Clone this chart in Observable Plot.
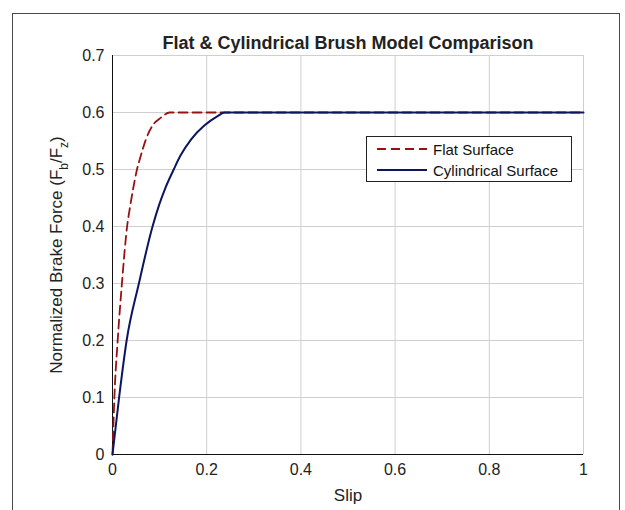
<!DOCTYPE html>
<html><head><meta charset="utf-8">
<script src="https://cdn.jsdelivr.net/npm/d3@7"></script>
<script src="https://cdn.jsdelivr.net/npm/@observablehq/plot@0.6"></script>
<style>
body{margin:0;background:#fff;font-family:"Liberation Sans",Arial,sans-serif;}
#wrap{position:relative;width:625px;height:510px;overflow:hidden;background:#fff;}
#frame{position:absolute;left:12px;top:13px;width:606px;height:530px;border:1px solid #4a4a4a;}
#chart{position:absolute;left:0;top:0;}
#legend{position:absolute;left:366px;top:136px;width:204px;height:44px;border:1px solid #222;background:#fff;font-size:15px;color:#111;}
.row{position:absolute;left:10px;height:20px;display:flex;align-items:center;white-space:nowrap;}
.row svg{margin-right:6px;}
</style></head>
<body><div id="wrap"><div id="frame"></div><div id="chart"></div><div id="legend"></div></div>
<script>
const title = "Flat & Cylindrical Brush Model Comparison";
const xLabel = "Slip";
const seriesNames = ["Flat Surface", "Cylindrical Surface"];
const flatSlip  = [0, 0.004, 0.011, 0.020, 0.031, 0.038, 0.044, 0.052, 0.060, 0.071, 0.085, 0.103, 0.121, 1];
const flatForce = [0, 0.1,   0.2,   0.3,   0.4,   0.438, 0.467, 0.5,   0.524, 0.553, 0.577, 0.591, 0.6,   0.6];
const cylSlip   = [0, 0.014, 0.030, 0.056, 0.085, 0.099, 0.112, 0.130, 0.144, 0.167, 0.195, 0.224, 0.238, 1];
const cylForce  = [0, 0.1,   0.2,   0.3,   0.4,   0.438, 0.467, 0.5,   0.524, 0.553, 0.577, 0.594, 0.6,   0.6];
const xTicks = [0, 0.2, 0.4, 0.6, 0.8, 1];
const yTicks = [0, 0.1, 0.2, 0.3, 0.4, 0.5, 0.6, 0.7];

const flatColor = "#9a1010", cylColor = "#0c165e";
const flat = flatSlip.map((s, i) => ({s, f: flatForce[i]}));
const cyl = cylSlip.map((s, i) => ({s, f: cylForce[i]}));

const chart = Plot.plot({
  width: 625, height: 510,
  marginLeft: 112, marginRight: 42, marginTop: 55, marginBottom: 56,
  style: {background: "transparent", fontFamily: "Liberation Sans, Arial, sans-serif", fontSize: "16px", color: "#222"},
  x: {domain: [0, 1]},
  y: {domain: [0, 0.7]},
  marks: [
    Plot.gridX(xTicks, {stroke: "#cfcfcf", strokeOpacity: 1}),
    Plot.gridY(yTicks, {stroke: "#cfcfcf", strokeOpacity: 1}),
    Plot.ruleX([0], {stroke: "#111"}),
    Plot.ruleY([0], {stroke: "#111"}),
    Plot.line(flat, {x: "s", y: "f", stroke: flatColor, strokeWidth: 1.8, strokeDasharray: "9,5", curve: "monotone-x"}),
    Plot.line(cyl, {x: "s", y: "f", stroke: cylColor, strokeWidth: 2, curve: "monotone-x"}),
    Plot.axisX(xTicks, {tickSize: 0, tickPadding: 9, tickFormat: d => String(d), label: null, fontSize: 16}),
    Plot.axisY(yTicks, {tickSize: 0, tickPadding: 8, tickFormat: d => String(d), label: null, fontSize: 16}),
    Plot.text([xLabel], {frameAnchor: "bottom", lineAnchor: "middle", dy: 41, fontSize: 17}),
    Plot.text([title], {frameAnchor: "top", lineAnchor: "middle", dy: -12, fontSize: 18, fontWeight: "bold"})
  ]
});
document.getElementById("chart").appendChild(chart);

// y-axis label with subscripts
const svg = d3.select(chart);
const yl = svg.append("text")
  .attr("transform", "translate(58,255) rotate(-90)")
  .attr("text-anchor", "middle")
  .attr("dominant-baseline", "middle")
  .attr("font-size", 17)
  .attr("fill", "#222");
yl.append("tspan").text("Normalized Brake Force (F");
yl.append("tspan").attr("baseline-shift", "sub").attr("font-size", 12).text("b");
yl.append("tspan").text("/F");
yl.append("tspan").attr("baseline-shift", "sub").attr("font-size", 12).text("z");
yl.append("tspan").text(")");

// legend
const legend = d3.select("#legend");
const styles = [{color: flatColor, dash: "9,5", w: 1.8}, {color: cylColor, dash: null, w: 2}];
seriesNames.forEach((name, i) => {
  const row = legend.append("div").attr("class", "row").style("top", (i === 0 ? 2 : 23) + "px");
  const s = row.append("svg").attr("width", 50).attr("height", 10);
  const ln = s.append("line").attr("x1", 0).attr("x2", 50).attr("y1", 5).attr("y2", 5)
    .attr("stroke", styles[i].color).attr("stroke-width", styles[i].w);
  if (styles[i].dash) ln.attr("stroke-dasharray", styles[i].dash);
  row.append("span").text(name);
});
</script></body></html>
